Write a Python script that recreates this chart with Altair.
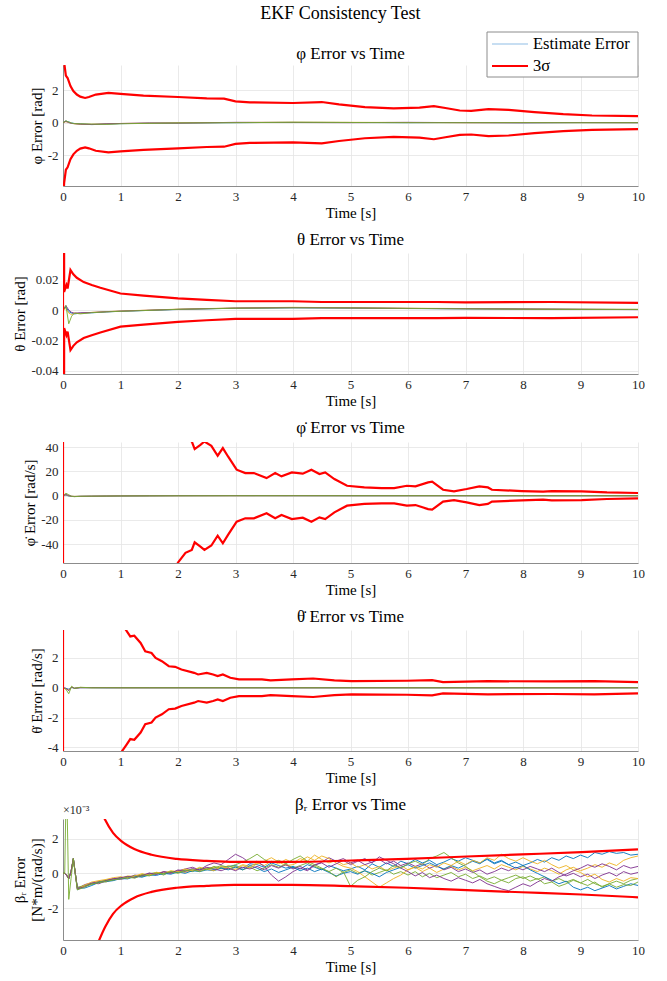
import altair as alt
import pandas as pd
import numpy as np

FONT = "Liberation Serif"
W, H = 575, 121

# ---------------- time grids ----------------
T_SMALL = [0, 0.05, 0.1, 0.15, 0.2, 0.3, 0.5, 0.75, 1, 1.5, 2, 3, 4, 5, 6, 7, 8, 9, 10]
T5_EARLY = [0, 0.03, 0.06, 0.1, 0.14, 0.18, 0.21]
T5_RUN = [round(0.25 + 0.125 * k, 3) for k in range(79)]

RUN_COLORS_SMALL = ["#0072BD", "#EDB120", "#7E2F8E", "#77AC30"]
RUN_COLORS_BR = ["#0072BD", "#D95319", "#EDB120", "#7E2F8E", "#4DBEEE", "#C21BE0", "#2F8FE0", "#77AC30"]

# ---------------- panel 1 : phi ----------------
P1_RUNS = [
    [0, 0.1, 0.05, -0.02, -0.05, -0.08, -0.12, -0.09, -0.06, -0.04, -0.02, 0.0, 0.02, 0.01, 0.0, 0.01, 0.0, 0.0, 0.0],
    [0, 0.06, 0.02, -0.04, -0.07, -0.1, -0.1, -0.08, -0.05, -0.03, -0.01, 0.01, 0.03, 0.02, 0.01, 0.0, 0.01, 0.0, 0.0],
    [0, 0.08, 0.0, -0.05, -0.06, -0.09, -0.11, -0.07, -0.05, -0.02, -0.03, 0.02, 0.01, 0.0, 0.02, 0.0, -0.01, 0.01, 0.0],
    [0, 0.12, 0.03, -0.03, -0.06, -0.07, -0.09, -0.1, -0.07, -0.04, -0.02, 0.0, 0.02, 0.01, 0.0, 0.0, 0.0, 0.0, 0.0],
]
P1_T = [0, 0.02, 0.05, 0.08, 0.13, 0.18, 0.24, 0.3, 0.385, 0.45, 0.57, 0.79, 1.0, 1.4, 2.0, 2.5, 2.8, 3.0,
        3.25, 4.0, 4.5, 4.8, 5.25, 5.75, 6.2, 6.45, 6.65, 6.9, 7.1, 7.4, 7.75, 8.2, 8.7, 9.2, 10]
P1_SIG = [5.0, 3.7, 2.9, 2.75, 2.25, 1.95, 1.73, 1.6, 1.52, 1.58, 1.73, 1.83, 1.77, 1.67, 1.58, 1.5, 1.48, 1.31,
          1.25, 1.21, 1.27, 1.13, 0.96, 0.88, 0.92, 1.02, 0.9, 0.75, 0.73, 0.83, 0.79, 0.65, 0.52, 0.44, 0.4]

# ---------------- panel 2 : theta ----------------
P2_RUNS = [
    [0, 0.002, -0.001, -0.002, -0.0025, -0.002, -0.0018, -0.0012, -0.0008, -0.0002, 0.0004, 0.0012, 0.0015, 0.0013, 0.001, 0.0008, 0.0006, 0.0005, 0.0004],
    [0, 0.001, -0.002, -0.003, -0.002, -0.0022, -0.0015, -0.001, -0.0006, 0.0, 0.0006, 0.0014, 0.0018, 0.0015, 0.0012, 0.001, 0.0007, 0.0006, 0.0005],
    [0, 0.003, 0.0, -0.0015, -0.002, -0.0018, -0.0016, -0.0011, -0.0007, -0.0001, 0.0005, 0.0013, 0.0016, 0.0014, 0.0011, 0.0009, 0.0007, 0.0005, 0.0003],
    [0, 0.003, -0.009, -0.004, -0.002, -0.0025, -0.0017, -0.0012, -0.0008, -0.0002, 0.0005, 0.0012, 0.0015, 0.0014, 0.0011, 0.0008, 0.0006, 0.0004, 0.0004],
]
P2_T = [0, 0.005, 0.02, 0.06, 0.08, 0.13, 0.18, 0.24, 0.36, 0.5, 0.65, 1.0, 1.4, 2.0, 2.5, 3.0, 4.0, 4.5, 5.5, 6.5, 7.0, 8.5, 10]
P2_SIG = [0, 0.5, 0.0119, 0.0165, 0.0142, 0.0263, 0.0235, 0.0212, 0.0184, 0.0165, 0.0147, 0.0109, 0.0095, 0.0077,
          0.0067, 0.0058, 0.0058, 0.0053, 0.0053, 0.0053, 0.0051, 0.0053, 0.0047]

# ---------------- panel 3 : phi dot ----------------
P3_RUNS = [
    [0, 0.5, -0.3, -0.5, -0.6, -0.5, -0.4, -0.3, -0.2, -0.1, 0, 0.05, 0.05, 0, 0, 0, 0, 0, 0],
    [0, 0.8, -0.1, -0.4, -0.5, -0.45, -0.35, -0.25, -0.15, -0.1, -0.05, 0, 0.05, 0.02, 0, 0, 0, 0, 0],
    [0, 1.0, 0.2, -0.5, -0.7, -0.5, -0.38, -0.28, -0.18, -0.08, 0, 0.03, 0, 0, 0, 0, 0, 0, 0],
    [0, 2.0, 0.8, -0.6, -0.8, -0.5, -0.4, -0.3, -0.2, -0.1, -0.05, 0, 0, 0, 0, 0, 0, 0, 0],
]
P3_T = [0, 0.005, 1.0, 2.0, 2.13, 2.24, 2.29, 2.39, 2.46, 2.58, 2.69, 2.78, 2.87, 3.02, 3.17, 3.32, 3.54, 3.69,
        3.8, 3.98, 4.17, 4.32, 4.46, 4.56, 4.72, 4.94, 5.24, 5.54, 5.76, 5.98, 6.13, 6.35, 6.42, 6.61, 6.8,
        7.02, 7.24, 7.39, 7.46, 7.98, 8.35, 8.5, 9.02, 9.46, 10]
P3_SIG = [0, 3000, 150, 55, 47, 44.6, 38.4, 41.9, 44.6, 41, 32.9, 39.2, 32.3, 21.4, 18.6, 18.6, 14.5, 18.6,
          15.9, 19.2, 18.1, 21.4, 17.8, 19.2, 13.7, 8.2, 6.8, 6.3, 6.3, 8.2, 7.7, 11, 11.5, 4.9, 3.6,
          5.5, 7.7, 6.8, 4.9, 3.8, 3.3, 3.8, 3.6, 2.7, 2.2]

# ---------------- panel 4 : theta dot ----------------
P4_RUNS = [
    [0, -0.05, -0.1, 0.02, -0.02, 0.01, 0.0, 0.0, 0.0, 0.0, 0.0, 0.0, 0.0, 0.0, 0.0, 0.0, 0.0, 0.0, 0.0],
    [0, -0.08, -0.15, 0.05, -0.03, 0.02, 0.0, 0.01, 0.0, 0.0, 0.0, 0.0, 0.0, 0.0, 0.0, 0.0, 0.0, 0.0, 0.0],
    [0, -0.03, -0.2, 0.04, -0.04, 0.0, 0.01, 0.0, 0.0, 0.0, 0.0, 0.0, 0.0, 0.0, 0.0, 0.0, 0.0, 0.0, 0.0],
    [0, -0.1, -0.4, 0.1, -0.05, 0.03, 0.0, 0.0, 0.0, 0.0, 0.0, 0.0, 0.0, 0.0, 0.0, 0.0, 0.0, 0.0, 0.0],
]
P4_T = [0, 0.005, 0.5, 1.0, 1.1, 1.17, 1.24, 1.35, 1.43, 1.54, 1.61, 1.72, 1.84, 1.95, 2.06, 2.28, 2.35, 2.5,
        2.61, 2.69, 2.78, 2.91, 3.06, 3.46, 3.61, 3.98, 4.35, 4.72, 5.02, 5.98, 6.42, 6.61, 7.39, 8.5, 9.24, 10]
P4_SIG = [0, 300, 12, 4.4, 3.84, 3.44, 3.49, 3.0, 2.44, 2.33, 2.0, 1.78, 1.44, 1.4, 1.22, 1.0, 0.89, 1.0,
          0.89, 0.78, 0.89, 0.67, 0.56, 0.56, 0.49, 0.56, 0.62, 0.49, 0.44, 0.47, 0.51, 0.38, 0.44, 0.42, 0.44, 0.38]

# ---------------- panel 5 : beta_r (x 1e-3) ----------------
P5_EARLY_COMMON = [0, 0.0, -0.1, -0.3, 0.1, 0.85, 0.1]
P5_EARLY_GREEN = [0, 0.0, 6.0, -1.5, -0.3, 0.85, 0.0]
BR_RUN1 = [-0.95, -0.72, -0.58, -0.52, -0.41, -0.36,
           -0.28, -0.2, -0.22, -0.1, -0.08, 0.02, -0.05, 0.05,
           0.1, 0.18, 0.12, 0.25, 0.3, 0.22, 0.35, 0.4,
           0.45, 0.3, 0.55, 0.5, 0.35, 0.6, 0.45, 0.3,
           0.4, 0.25, 0.5, 0.35, 0.2, 0.45, 0.3, 0.15,
           0.25, 0.4, 0.2, 0.55, 0.35, 0.6, 0.4, 0.7,
           0.55, 0.8, 0.6, 0.75, 0.5, 0.65, 0.85, 0.7,
           0.9, 0.75, 0.6, 0.8, 0.55, 0.7, 0.5, 0.65,
           0.45, 0.6, 0.8, 0.65, 0.9, 0.75, 1.0, 0.85,
           1.05, 0.9, 1.2, 1.1, 1.25, 1.15, 1.2, 1.05,
           1.1]
BR_RUN2 = [-0.85, -0.75, -0.62, -0.45, -0.5, -0.33,
           -0.3, -0.15, -0.18, -0.05, -0.12, 0.0, 0.08, 0.02,
           0.12, 0.05, 0.2, 0.15, 0.3, 0.35, 0.25, 0.45,
           0.3, 0.5, 0.4, 0.6, 0.45, 0.7, 0.55, 0.8,
           0.6, 0.85, 0.7, 1.05, 0.8, 0.6, 0.75, 0.5,
           0.6, 0.35, 0.5, 0.25, 0.4, 0.15, 0.3, 0.45,
           0.2, 0.35, 0.1, 0.3, 0.05, 0.25, 0.4, 0.2,
           0.35, 0.15, 0.3, 0.45, 0.25, 0.5, 0.35, 0.2,
           0.4, 0.25, 0.1, 0.3, 0.15, -0.05, 0.2, 0.35,
           0.15, 0.3, 0.5, 0.35, 0.6, 0.45, 0.75, 0.9,
           1.0]
BR_RUN3 = [-0.9, -0.65, -0.55, -0.48, -0.4, -0.3,
           -0.35, -0.25, -0.1, -0.15, 0.0, -0.05, 0.1, 0.05,
           0.15, 0.25, 0.35, 0.2, 0.45, 0.6, 0.5, 0.8,
           1.1, 0.9, 0.6, 0.7, 0.4, -0.1, -0.45, -0.2,
           0.1, 0.3, 0.15, 0.45, 0.65, 0.9, 0.7, 0.85,
           0.6, 0.75, 0.5, 0.65, 0.8, 0.55, 0.7, 0.45,
           0.6, 0.4, 0.55, 0.3, 0.45, 0.2, 0.35, 0.1,
           0.25, 0.05, 0.2, -0.05, 0.1, 0.3, 0.15, 0.35,
           0.2, 0.4, 0.25, 0.1, 0.3, 0.05, -0.15, 0.0,
           -0.2, -0.05, -0.3, -0.1, 0.05, -0.15, 0.1, -0.05,
           0.05]
BR_RUN4 = [-0.8, -0.7, -0.65, -0.5, -0.38, -0.4,
           -0.22, -0.3, -0.12, -0.2, -0.02, 0.05, -0.1, 0.12,
           0.05, 0.2, 0.1, 0.3, 0.2, 0.4, 0.3, 0.25,
           0.4, 0.2, 0.35, 0.15, 0.3, 0.5, 0.35, 0.55,
           0.3, 0.45, 0.6, 0.4, 0.25, 0.1, 0.3, 0.05,
           0.2, 0.0, 0.15, -0.1, 0.05, 0.2, -0.05, 0.1,
           -0.1, 0.1, -0.2, 0.0, -0.25, -0.1, 0.05, -0.2,
           -0.05, -0.3, -0.15, -0.35, -0.2, -0.4, -0.25, -0.1,
           -0.3, -0.15, -0.35, -0.2, -0.45, -0.3, -0.5, -0.35,
           -0.55, -0.7, -0.5, -0.8, -0.6, -0.45, -0.6, -0.4,
           -0.3]
BR_RUN5 = [-0.85, -0.85, -0.7, -0.52, -0.48, -0.42,
           -0.3, -0.32, -0.18, -0.22, -0.1, -0.12, 0.0, -0.05,
           0.08, 0.0, 0.15, 0.1, 0.2, 0.15, 0.3, 0.2,
           0.35, 0.2, 0.45, 0.3, 0.1, 0.25, 0.05, 0.2,
           0.35, 0.15, 0.3, 0.1, 0.25, 0.05, -0.15, 0.0,
           0.1, -0.05, 0.15, 0.0, -0.2, 0.05, 0.2, 0.35,
           0.5, 0.3, 0.45, 0.6, 0.4, 0.25, 0.45, 0.3,
           0.5, 0.7, 0.55, 0.85, 0.6, 0.75, 0.5, 0.3,
           0.45, 0.2, 0.0, -0.2, -0.4, -0.6, -0.45, -0.8,
           -0.95, -0.8, -1.0, -0.85, -0.7, -0.9, -0.75, -0.6,
           -0.7]
BR_RUN6 = [-0.92, -0.68, -0.5, -0.42, -0.35, -0.25,
           -0.2, -0.28, -0.15, -0.02, -0.1, 0.06, 0.0, 0.15,
           0.1, 0.25, 0.15, 0.35, 0.25, 0.15, 0.4, 0.3,
           0.2, 0.45, 0.3, 0.55, 0.7, 0.9, 0.65, 0.45,
           0.5, 0.7, 0.95, 0.75, 1.0, 0.85, 0.6, 0.4,
           0.3, 0.1, -0.2, -0.5, -0.8, -0.55, -0.3, -0.1,
           0.2, 0.4, 0.25, 0.5, 0.35, 0.6, 0.45, 0.7,
           0.5, 0.75, 0.6, 0.9, 0.75, 1.1, 0.85, 0.7,
           0.9, 0.7, 0.55, 0.75, 0.5, 0.3, 0.45, 0.2,
           0.05, -0.2, -0.05, -0.35, -0.5, -0.3, -0.45, -0.25,
           -0.3]
BR_RUN7 = [-0.88, -0.78, -0.57, -0.6, -0.42, -0.32,
           -0.25, -0.18, -0.25, -0.12, 0.02, -0.06, 0.08, 0.0,
           0.2, 0.1, 0.28, 0.18, 0.35, 0.25, 0.15, 0.3,
           0.15, 0.35, 0.25, 0.4, 0.2, 0.45, 0.3, 0.5,
           0.25, 0.4, 0.2, 0.5, 0.6, 0.35, 0.55, 0.75,
           0.5, 0.7, 0.85, 0.6, 0.95, 0.75, 0.55, 0.3,
           0.1, -0.15, 0.05, -0.25, -0.1, -0.3, -0.45, -0.25,
           -0.4, -0.55, -0.35, -0.6, -0.75, -0.9, -1.0, -0.8,
           -0.6, -0.75, -0.5, -0.3, -0.45, -0.2, -0.05, 0.15,
           0.3, 0.5, 0.35, 0.55, 0.4, 0.2, 0.45, 0.3,
           0.4]
BR_RUN8 = [-0.95, -0.8, -0.6, -0.55, -0.45, -0.38,
           -0.32, -0.22, -0.28, -0.08, -0.15, 0.0, -0.02, 0.1,
           0.0, 0.15, 0.22, 0.1, 0.25, 0.3, 0.45, 0.35,
           0.5, 0.65, 0.85, 1.1, 0.8, 0.6, 0.75, 0.55,
           0.8, 1.0, 0.7, 0.5, 0.3, 0.1, -0.2, 0.1,
           -0.75, -0.4, -0.2, 0.1, 0.3, 0.15, 0.45, 0.3,
           0.55, 0.7, 0.5, 0.85, 1.0, 1.2, 0.9, 0.6,
           0.4, 0.1, -0.2, -0.45, -0.6, -0.4, -0.55, -0.3,
           -0.2, -0.45, -0.3, -0.6, -0.5, -0.75, -0.6, -0.4,
           -0.55, -0.35, -0.6, -0.75, -0.6, -0.8, -0.65, -0.7,
           -0.5]
BR_RUNS = [BR_RUN1, BR_RUN2, BR_RUN3, BR_RUN4, BR_RUN5, BR_RUN6, BR_RUN7, BR_RUN8]
P5_T = [0, 0.2, 0.4, 0.5, 0.63, 0.73, 0.87, 1.02, 1.24, 1.54, 1.98, 2.5, 2.98, 3.98, 5.02, 5.98, 7.02, 7.98, 9.02, 10]
P5_SIG = [60, 14, 6.5, 5.0, 3.84, 3.1, 2.33, 1.84, 1.4, 1.07, 0.83, 0.72, 0.66, 0.66, 0.74, 0.83, 0.97, 1.09, 1.22, 1.38]


# ---------------- data frames ----------------
def small_runs_df(runs, times):
    rows = []
    for i, vals in enumerate(runs):
        for t, v in zip(times, vals):
            rows.append({"t": t, "v": v, "run": f"r{i}"})
    return pd.DataFrame(rows)


def sigma_df(times, sig):
    rows = []
    for t, s in zip(times, sig):
        rows.append({"t": t, "v": s, "side": "up"})
        rows.append({"t": t, "v": -s, "side": "lo"})
    return pd.DataFrame(rows)


def br_runs_df():
    rows = []
    green_idx = len(BR_RUNS) - 1
    for i, vals in enumerate(BR_RUNS):
        early = P5_EARLY_GREEN if i == green_idx else P5_EARLY_COMMON
        for t, v in zip(T5_EARLY, early):
            rows.append({"t": t, "v": v, "run": f"r{i}"})
        for t, v in zip(T5_RUN, vals):
            rows.append({"t": t, "v": v, "run": f"r{i}"})
    return pd.DataFrame(rows)


AXIS_TEXT = dict(labelFont=FONT, labelFontSize=13, labelColor="#262626", labelFlush=False,
                 labelOverlap=False, labelExpr="'' + datum.value", titleFont=FONT, titleFontSize=15,
                 titleFontWeight="normal", titleColor="#000", ticks=False, gridColor="#e4e4e4",
                 gridWidth=0.8, domainColor="#8c8c8c", domainWidth=1)


def panel(err_df, sig_df, colors, title, ytitle, ydomain, yticks, interp="linear", extra=(),
          height=H, title_offset=4):
    x = alt.X("t:Q", scale=alt.Scale(domain=[0, 10], nice=False, zero=False),
              axis=alt.Axis(values=list(range(11)), title="Time [s]", labelPadding=4,
                            titlePadding=2, **AXIS_TEXT))
    y = alt.Y("v:Q", scale=alt.Scale(domain=ydomain, nice=False, zero=False),
              axis=alt.Axis(values=yticks, title=ytitle, labelPadding=5, titlePadding=3, **AXIS_TEXT))
    run_names = [f"r{i}" for i in range(len(colors))]
    err = alt.Chart(err_df).mark_line(clip=True, strokeWidth=0.9).encode(
        x=x, y=y,
        color=alt.Color("run:N", scale=alt.Scale(domain=run_names, range=colors), legend=None),
        order=alt.Order("t:Q"),
    )
    sig = alt.Chart(sig_df).mark_line(clip=True, color="#ff0000", strokeWidth=2.2, interpolate=interp).encode(
        x=x, y=y, detail="side:N", order=alt.Order("t:Q"),
    )
    return alt.layer(err, sig, *extra).properties(
        width=W, height=height,
        title=alt.TitleParams(title, anchor="middle", frame="group", font=FONT, fontSize=17,
                              fontWeight="normal", color="#000", offset=title_offset),
    )


one = pd.DataFrame({"a": [0]})
legend_layers = [
    alt.Chart(one).mark_rect(fill="white", stroke="#8c8c8c", strokeWidth=1).encode(
        x=alt.value(424), x2=alt.value(575), y=alt.value(-33), y2=alt.value(12)),
    alt.Chart(one).mark_rule(color="#8fbde6", strokeWidth=1.2).encode(
        x=alt.value(429), x2=alt.value(465), y=alt.value(-21)),
    alt.Chart(one).mark_rule(color="#ff0000", strokeWidth=2.2).encode(
        x=alt.value(429), x2=alt.value(465), y=alt.value(1)),
    alt.Chart(one).mark_text(text="Estimate Error", align="left", baseline="middle", font=FONT,
                             fontSize=16.5, color="#000").encode(x=alt.value(470), y=alt.value(-21)),
    alt.Chart(one).mark_text(text="3σ", align="left", baseline="middle", font=FONT,
                             fontSize=16.5, color="#000").encode(x=alt.value(470), y=alt.value(1)),
]

exp_layer = [
    alt.Chart(one).mark_text(text="×10⁻³", align="left", baseline="bottom", font=FONT,
                             fontSize=12, color="#262626").encode(x=alt.value(0), y=alt.value(-2)),
]

p1 = panel(small_runs_df(P1_RUNS, T_SMALL), sigma_df(P1_T, P1_SIG), RUN_COLORS_SMALL,
           "φ Error vs Time", "φ Error [rad]", [-3.9, 3.55], [-2, 0, 2], extra=legend_layers,
           title_offset=-31)
p2 = panel(small_runs_df(P2_RUNS, T_SMALL), sigma_df(P2_T, P2_SIG), RUN_COLORS_SMALL,
           "θ Error vs Time", "θ Error [rad]", [-0.042, 0.0375], [-0.04, -0.02, 0, 0.02])
p3 = panel(small_runs_df(P3_RUNS, T_SMALL), sigma_df(P3_T, P3_SIG), RUN_COLORS_SMALL,
           "φ̇ Error vs Time", "φ̇ Error [rad/s]", [-55.4, 44.2], [-40, -20, 0, 20, 40])
p4 = panel(small_runs_df(P4_RUNS, T_SMALL), sigma_df(P4_T, P4_SIG), RUN_COLORS_SMALL,
           "θ̇ Error vs Time", "θ̇ Error [rad/s]", [-4.24, 3.87], [-4, -2, 0, 2])
p5 = panel(br_runs_df(), sigma_df(P5_T, P5_SIG), RUN_COLORS_BR,
           "βᵣ Error vs Time", ["βᵣ Error", "[N*m/(rad/s)]"], [-3.84, 3.13], [-2, 0, 2],
           interp="monotone", extra=exp_layer, title_offset=-10)

chart = alt.vconcat(p1, p2, p3, p4, p5, spacing=11).properties(
    title=alt.TitleParams("EKF Consistency Test", anchor="middle", fontSize=18, font=FONT,
                          fontWeight="normal", color="#000", offset=9, dx=12),
    padding={"left": 12, "top": 4, "right": 5, "bottom": 5},
).configure(font=FONT).configure_view(stroke=None)

chart.save("out.html", embed_options={"renderer": "svg", "actions": False})
